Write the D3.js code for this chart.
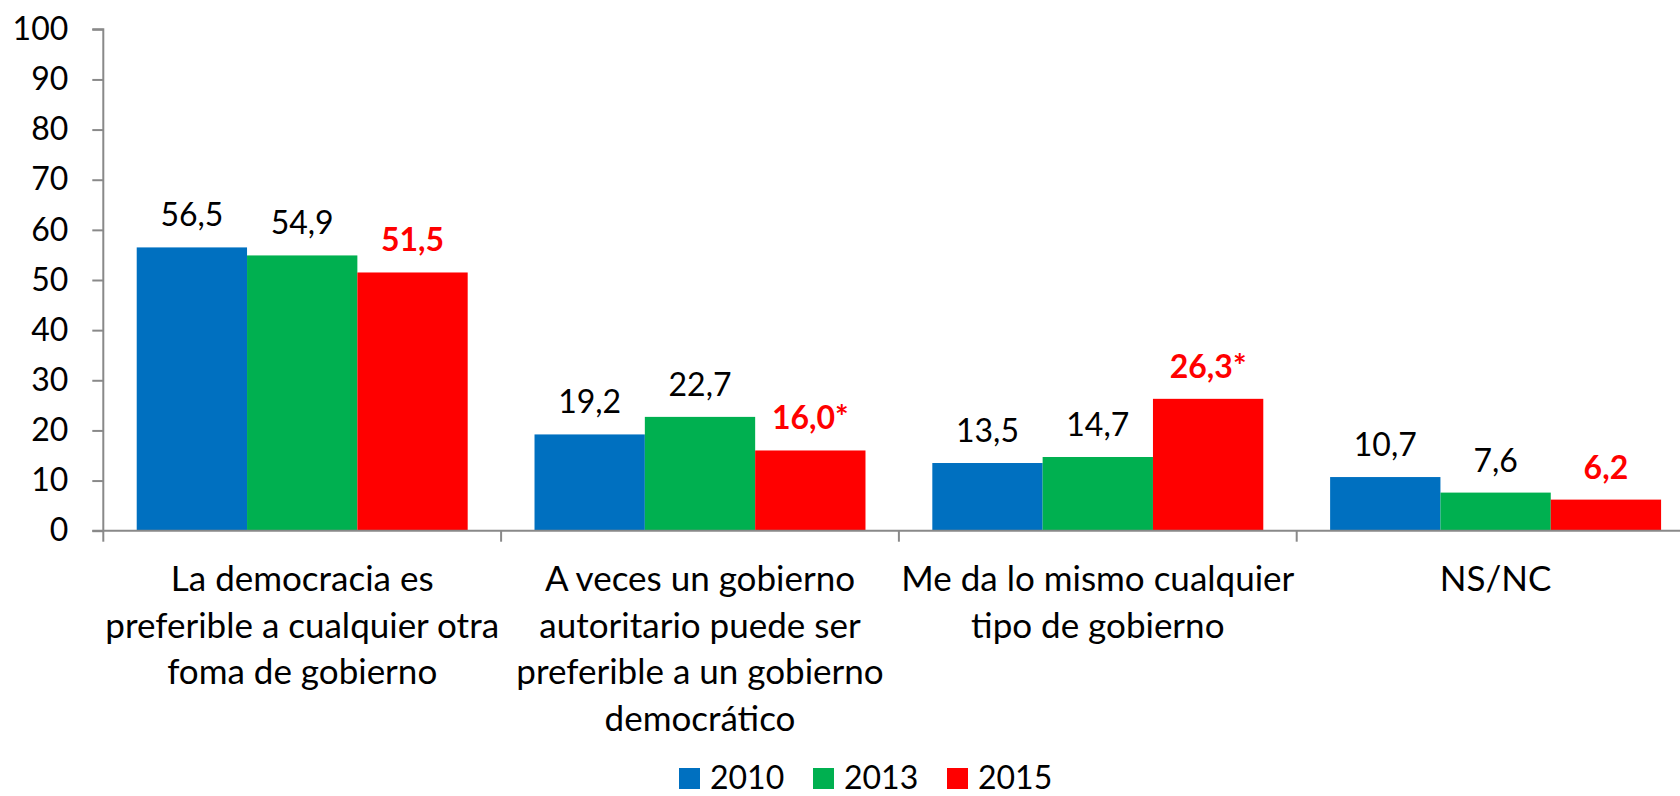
<!DOCTYPE html>
<html>
<head>
<meta charset="utf-8">
<script src="https://cdn.jsdelivr.net/npm/d3@7"></script>
<style>
  html, body { margin: 0; padding: 0; background: #ffffff; }
  svg { display: block; }
  text { font-family: Lato, "Open Sans", sans-serif; }
</style>
</head>
<body>
<svg id="chart" width="1680" height="796"></svg>
<script>
// ---- data ----
const categories = ["dem", "aut", "igual", "nsnc"];
const categoryLines = [
  ["La democracia es", "preferible a cualquier otra", "foma de gobierno"],
  ["A veces un gobierno", "autoritario puede ser", "preferible a un gobierno", "democrático"],
  ["Me da lo mismo cualquier", "tipo de gobierno"],
  ["NS/NC"]
];
const years = ["2010", "2013", "2015"];
const values2010 = [56.5, 19.2, 13.5, 10.7];
const values2013 = [54.9, 22.7, 14.7, 7.6];
const values2015 = [51.5, 16.0, 26.3, 6.2];
const marks2015 = ["", "*", "*", ""];
const yTicks = [0, 10, 20, 30, 40, 50, 60, 70, 80, 90, 100];
const colors = ["#0070C0", "#00B050", "#FF0000"];

// ---- layout ----
const W = 1680, H = 796;
const plotLeft = 103.3, plotTop = 29.3, plotBottom = 530.7;
const step = 397.8;
const numSize = 32;
const catSize = 35;
const axisColor = "#898989";

const svg = d3.select("#chart");

const x = d3.scaleBand()
  .domain(categories)
  .range([plotLeft, plotLeft + step * categories.length])
  .paddingInner(0.168)
  .paddingOuter(0.084);

const xs = d3.scaleBand().domain(years).range([0, x.bandwidth()]);

const y = d3.scaleLinear().domain([0, 100]).range([plotBottom, plotTop]);

const series = [values2010, values2013, values2015];
const rows = [];
categories.forEach((c, i) => {
  years.forEach((yr, j) => {
    rows.push({ cat: c, year: yr, j, value: series[j][i], mark: j === 2 ? marks2015[i] : "" });
  });
});

const fmt = v => d3.format(".1f")(v).replace(".", ",");

// bars
svg.append("g")
  .selectAll("rect")
  .data(rows)
  .join("rect")
  .attr("x", d => x(d.cat) + xs(d.year))
  .attr("y", d => y(d.value))
  .attr("width", xs.bandwidth())
  .attr("height", d => y(0) - y(d.value))
  .attr("fill", d => colors[d.j]);

// y axis
const yAxis = svg.append("g")
  .attr("transform", `translate(${plotLeft},0)`)
  .call(d3.axisLeft(y).tickValues(yTicks).tickSize(11).tickPadding(24).tickFormat(d3.format("d")));
yAxis.select(".domain").attr("stroke", axisColor).attr("stroke-width", 2)
  .attr("d", `M-11,${y(100)}H0V${y(0)}`);
yAxis.selectAll(".tick line").attr("stroke", axisColor).attr("stroke-width", 2);
yAxis.selectAll(".tick text")
  .attr("font-size", numSize)
  .attr("font-family", "Lato")
  .attr("fill", "#000");

// x axis
const xAxis = svg.append("g")
  .attr("transform", `translate(0,${plotBottom})`)
  .call(d3.axisBottom(x).tickSize(0).tickFormat(""));
xAxis.select(".domain").attr("stroke", axisColor).attr("stroke-width", 2)
  .attr("d", `M${plotLeft - 11},0H${W + 20}`);
xAxis.selectAll(".tick").remove();
const boundaries = d3.range(categories.length + 1).map(i => plotLeft + i * x.step());
xAxis.selectAll("line.bound")
  .data(boundaries)
  .join("line")
  .attr("class", "bound")
  .attr("x1", d => d).attr("x2", d => d)
  .attr("y1", 0).attr("y2", 11)
  .attr("stroke", axisColor).attr("stroke-width", 2);

// category labels
const catG = svg.append("g");
categories.forEach((c, i) => {
  const t = catG.append("text")
    .attr("x", x(c) + x.bandwidth() / 2)
    .attr("y", 591)
    .attr("text-anchor", "middle")
    .attr("font-size", catSize)
    .attr("fill", "#000");
  categoryLines[i].forEach((line, k) => {
    t.append("tspan")
      .attr("x", x(c) + x.bandwidth() / 2)
      .attr("dy", k === 0 ? 0 : 46.7)
      .text(line);
  });
});

// value labels
svg.append("g")
  .selectAll("text")
  .data(rows)
  .join("text")
  .attr("x", d => x(d.cat) + xs(d.year) + xs.bandwidth() / 2)
  .attr("y", d => y(d.value) - 21)
  .attr("text-anchor", "middle")
  .attr("font-size", numSize)
  .attr("font-weight", d => d.j === 2 ? "bold" : "normal")
  .attr("fill", d => d.j === 2 ? "#FF0000" : "#000")
  .text(d => fmt(d.value) + d.mark);

// legend
const legend = svg.append("g").attr("transform", "translate(679,768)");
const li = legend.selectAll("g")
  .data(years)
  .join("g")
  .attr("transform", (d, i) => `translate(${i * 134},0)`);
li.append("rect").attr("width", 21).attr("height", 21).attr("fill", (d, i) => colors[i]);
li.append("text")
  .attr("x", 31).attr("y", 21)
  .attr("font-size", numSize)
  .attr("fill", "#000")
  .text(d => d);
</script>
</body>
</html>
